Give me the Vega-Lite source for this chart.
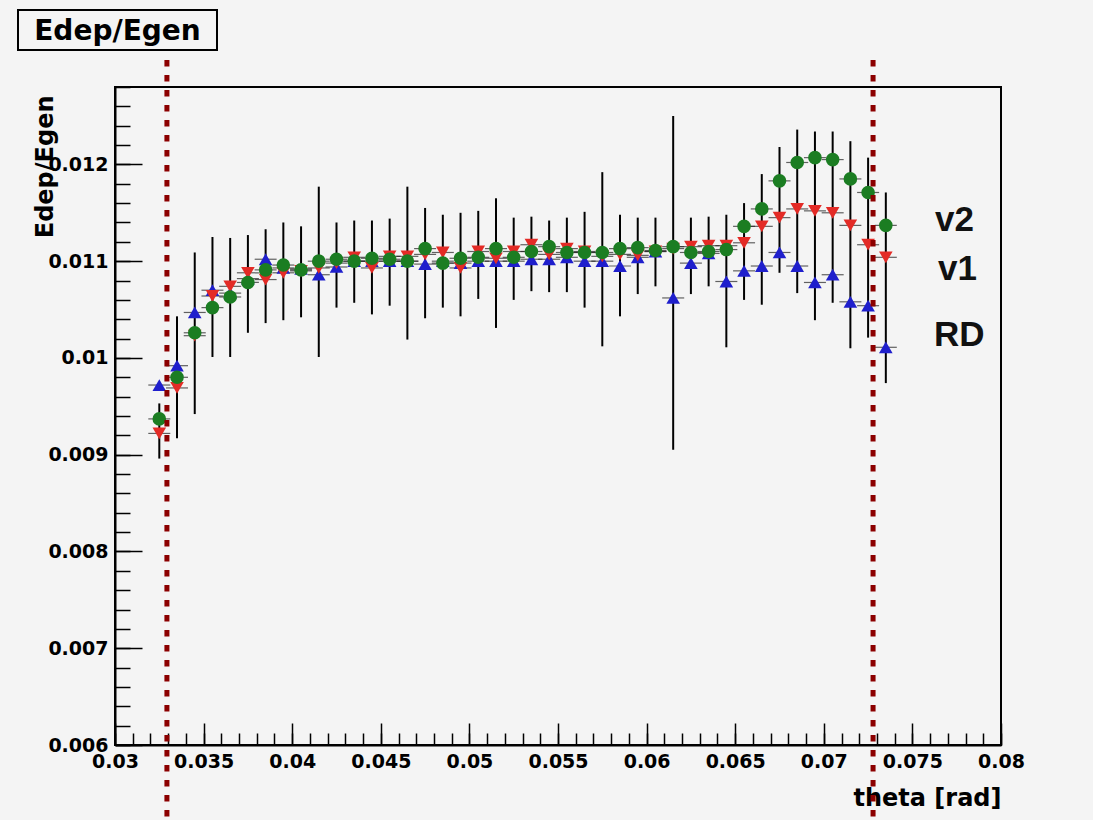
{
  "$schema": "https://vega.github.io/schema/vega-lite/v6.json",
  "width": 886,
  "height": 658,
  "autosize": "none",
  "padding": {"left": 115, "top": 87, "right": 92, "bottom": 75},
  "background": "#f4f4f4",
  "config": {
    "view": {"stroke": "black", "strokeWidth": 2, "fill": "#f4f4f4"},
    "axis": {
      "labelFont": "DejaVu Sans", "labelFontWeight": "bold", "labelFontSize": 19, "labelColor": "black",
      "tickColor": "black", "tickWidth": 1.5, "domainColor": "black", "domainWidth": 2, "grid": false,
      "titleColor": "black", "titleFont": "DejaVu Sans", "titleFontWeight": "bold"
    }
  },
  "datasets": {
    "bins": [
      {"theta":0.0325,"RD":0.00972,"v1":0.00922,"v2":0.00937,"lo":0.00896,"hi":0.00953},
      {"theta":0.0335,"RD":0.00992,"v1":0.00969,"v2":0.0098,"lo":0.00917,"hi":0.01043},
      {"theta":0.0345,"RD":0.01047,"v1":0.01023,"v2":0.01026,"lo":0.00942,"hi":0.01109},
      {"theta":0.0355,"RD":0.0107,"v1":0.01064,"v2":0.01052,"lo":0.01001,"hi":0.01125},
      {"theta":0.0365,"RD":0.01067,"v1":0.01074,"v2":0.01063,"lo":0.01001,"hi":0.01124},
      {"theta":0.0375,"RD":0.01082,"v1":0.01088,"v2":0.01078,"lo":0.01026,"hi":0.01127},
      {"theta":0.0385,"RD":0.01102,"v1":0.01081,"v2":0.01091,"lo":0.01036,"hi":0.01133},
      {"theta":0.0395,"RD":0.01093,"v1":0.01088,"v2":0.01096,"lo":0.01039,"hi":0.0114},
      {"theta":0.0405,"RD":0.01092,"v1":0.0109,"v2":0.01091,"lo":0.01042,"hi":0.01136},
      {"theta":0.0415,"RD":0.01086,"v1":0.01093,"v2":0.011,"lo":0.01001,"hi":0.01177},
      {"theta":0.0425,"RD":0.01094,"v1":0.01098,"v2":0.01102,"lo":0.01052,"hi":0.0114},
      {"theta":0.0435,"RD":0.011,"v1":0.01104,"v2":0.011,"lo":0.01057,"hi":0.01142},
      {"theta":0.0445,"RD":0.011,"v1":0.01093,"v2":0.01103,"lo":0.01045,"hi":0.01142},
      {"theta":0.0455,"RD":0.011,"v1":0.01105,"v2":0.01102,"lo":0.01054,"hi":0.01144},
      {"theta":0.0465,"RD":0.011,"v1":0.01105,"v2":0.011,"lo":0.01019,"hi":0.01177},
      {"theta":0.0475,"RD":0.01097,"v1":0.01107,"v2":0.01113,"lo":0.01041,"hi":0.01155},
      {"theta":0.0485,"RD":0.011,"v1":0.01109,"v2":0.01098,"lo":0.01052,"hi":0.01148},
      {"theta":0.0495,"RD":0.01098,"v1":0.01093,"v2":0.01103,"lo":0.01043,"hi":0.0115},
      {"theta":0.0505,"RD":0.011,"v1":0.0111,"v2":0.01104,"lo":0.01061,"hi":0.01152},
      {"theta":0.0515,"RD":0.011,"v1":0.01103,"v2":0.01113,"lo":0.01031,"hi":0.01165},
      {"theta":0.0525,"RD":0.011,"v1":0.0111,"v2":0.01104,"lo":0.0106,"hi":0.01145},
      {"theta":0.0535,"RD":0.01102,"v1":0.01117,"v2":0.0111,"lo":0.01069,"hi":0.01146},
      {"theta":0.0545,"RD":0.01102,"v1":0.01107,"v2":0.01115,"lo":0.01068,"hi":0.01142},
      {"theta":0.0555,"RD":0.01104,"v1":0.01113,"v2":0.01109,"lo":0.01068,"hi":0.01145},
      {"theta":0.0565,"RD":0.011,"v1":0.0111,"v2":0.01109,"lo":0.01052,"hi":0.01151},
      {"theta":0.0575,"RD":0.011,"v1":0.01105,"v2":0.01109,"lo":0.01012,"hi":0.01192},
      {"theta":0.0585,"RD":0.01095,"v1":0.01107,"v2":0.01113,"lo":0.01043,"hi":0.01148},
      {"theta":0.0595,"RD":0.01104,"v1":0.01106,"v2":0.01114,"lo":0.01066,"hi":0.01145},
      {"theta":0.0605,"RD":0.0111,"v1":0.0111,"v2":0.01111,"lo":0.01074,"hi":0.01145},
      {"theta":0.0615,"RD":0.01062,"v1":0.01113,"v2":0.01115,"lo":0.00905,"hi":0.0125},
      {"theta":0.0625,"RD":0.01098,"v1":0.01115,"v2":0.01109,"lo":0.01066,"hi":0.01145},
      {"theta":0.0635,"RD":0.01108,"v1":0.01116,"v2":0.0111,"lo":0.01074,"hi":0.01146},
      {"theta":0.0645,"RD":0.01079,"v1":0.01116,"v2":0.01112,"lo":0.01011,"hi":0.01148},
      {"theta":0.0655,"RD":0.0109,"v1":0.01119,"v2":0.01136,"lo":0.0106,"hi":0.0116},
      {"theta":0.0665,"RD":0.01095,"v1":0.01136,"v2":0.01154,"lo":0.01055,"hi":0.0119},
      {"theta":0.0675,"RD":0.01109,"v1":0.01145,"v2":0.01183,"lo":0.01088,"hi":0.01218},
      {"theta":0.0685,"RD":0.01095,"v1":0.01154,"v2":0.01202,"lo":0.01067,"hi":0.01236},
      {"theta":0.0695,"RD":0.01078,"v1":0.01152,"v2":0.01207,"lo":0.01039,"hi":0.01234},
      {"theta":0.0705,"RD":0.01086,"v1":0.0115,"v2":0.01205,"lo":0.01057,"hi":0.01234},
      {"theta":0.0715,"RD":0.01058,"v1":0.01137,"v2":0.01185,"lo":0.0101,"hi":0.01224},
      {"theta":0.0725,"RD":0.01054,"v1":0.01117,"v2":0.01171,"lo":0.01021,"hi":0.01207},
      {"theta":0.0735,"RD":0.01011,"v1":0.01104,"v2":0.01137,"lo":0.00974,"hi":0.01171}
    ],
    "cuts": [
      {"theta": 0.03293, "top": 0.01308, "bottom": 0.0052},
      {"theta": 0.07278, "top": 0.01308, "bottom": 0.0052}
    ],
    "labels": [
      {"theta": 0.076275, "y": 0.011312, "label": "v2"},
      {"theta": 0.076445, "y": 0.010805, "label": "v1"},
      {"theta": 0.076219, "y": 0.010123, "label": "RD"}
    ],
    "titlebox": [
      {"x1": 0.024526, "x2": 0.035756, "y1": 0.013596, "y2": 0.013182, "xc": 0.030141, "yb": 0.01329, "text": "Edep/Egen"}
    ]
  },
  "resolve": {"axis": {"x": "independent", "y": "independent"}},
  "layer": [
    {
      "data": {"name": "bins"},
      "mark": {"type": "rule", "color": "black", "strokeWidth": 2},
      "encoding": {
        "x": {"field": "theta", "type": "quantitative",
          "scale": {"domain": [0.03, 0.08], "nice": false, "zero": false},
          "axis": {"orient": "bottom", "values": [0.03,0.035,0.04,0.045,0.05,0.055,0.06,0.065,0.07,0.075,0.08],
            "format": "~g", "tickSize": -22, "labelPadding": 29, "labelFlush": false, "labelOverlap": false,
            "title": "theta [rad]", "titleFontSize": 24, "titleAnchor": "end", "titleAlign": "right",
            "titleBaseline": "middle", "titleX": 886, "titleY": 53}},
        "y": {"field": "lo", "type": "quantitative",
          "scale": {"domain": [0.006, 0.0128], "nice": false, "zero": false},
          "axis": {"orient": "left", "values": [0.006,0.007,0.008,0.009,0.01,0.011,0.012],
            "format": "~g", "tickSize": -27, "labelPadding": 34, "labelOverlap": false,
            "title": "Edep/Egen", "titleFontSize": 24, "titleAngle": -90, "titleAlign": "right",
            "titleBaseline": "middle", "titleX": -70, "titleY": 8}},
        "y2": {"field": "hi"}
      }
    },
    {
      "data": {"name": "bins"},
      "transform": [{"fold": ["RD", "v1", "v2"], "as": ["series", "val"]}],
      "mark": {"type": "tick", "orient": "horizontal", "size": 22, "thickness": 1.2, "color": "#222222"},
      "encoding": {
        "x": {"field": "theta", "type": "quantitative",
          "scale": {"domain": [0.03, 0.08], "nice": false, "zero": false},
          "axis": {"orient": "bottom", "values": [0.03,0.031,0.032,0.033,0.034,0.035,0.036,0.037,0.038,0.039,0.04,0.041,0.042,0.043,0.044,0.045,0.046,0.047,0.048,0.049,0.05,0.051,0.052,0.053,0.054,0.055,0.056,0.057,0.058,0.059,0.06,0.061,0.062,0.063,0.064,0.065,0.066,0.067,0.068,0.069,0.07,0.071,0.072,0.073,0.074,0.075,0.076,0.077,0.078,0.079,0.08],
            "tickSize": -12, "labels": false, "domain": false, "title": null}},
        "y": {"field": "val", "type": "quantitative",
          "scale": {"domain": [0.006, 0.0128], "nice": false, "zero": false},
          "axis": {"orient": "left", "values": [0.006,0.0062,0.0064,0.0066,0.0068,0.007,0.0072,0.0074,0.0076,0.0078,0.008,0.0082,0.0084,0.0086,0.0088,0.009,0.0092,0.0094,0.0096,0.0098,0.01,0.0102,0.0104,0.0106,0.0108,0.011,0.0112,0.0114,0.0116,0.0118,0.012,0.0122,0.0124,0.0126,0.0128],
            "tickSize": -15, "labels": false, "domain": false, "title": null}}
      }
    },
    {
      "data": {"name": "bins"},
      "transform": [{"fold": ["RD", "v1", "v2"], "as": ["series", "val"]}],
      "mark": {"type": "point", "filled": true, "opacity": 1},
      "encoding": {
        "x": {"field": "theta", "type": "quantitative", "scale": {"domain": [0.03, 0.08], "nice": false, "zero": false}, "axis": null},
        "y": {"field": "val", "type": "quantitative", "scale": {"domain": [0.006, 0.0128], "nice": false, "zero": false}, "axis": null},
        "shape": {"field": "series", "type": "nominal", "legend": null,
          "scale": {"domain": ["RD", "v1", "v2"], "range": ["triangle-up", "triangle-down", "circle"]}},
        "size": {"field": "series", "type": "nominal", "legend": null,
          "scale": {"domain": ["RD", "v1", "v2"], "range": [185, 185, 165]}},
        "color": {"field": "series", "type": "nominal", "legend": null,
          "scale": {"domain": ["RD", "v1", "v2"], "range": ["#1f1fcc", "#e32b26", "#1b7d22"]}}
      }
    },
    {
      "data": {"name": "cuts"},
      "mark": {"type": "rule", "color": "#8b0000", "strokeWidth": 5, "strokeDash": [6.5, 8.5], "clip": false},
      "encoding": {
        "x": {"field": "theta", "type": "quantitative", "scale": {"domain": [0.03, 0.08], "nice": false, "zero": false}, "axis": null},
        "y": {"field": "top", "type": "quantitative", "scale": {"domain": [0.006, 0.0128], "nice": false, "zero": false}, "axis": null},
        "y2": {"field": "bottom"}
      }
    },
    {
      "data": {"name": "labels"},
      "mark": {"type": "text", "font": "Liberation Sans", "fontWeight": "bold", "fontSize": 35, "align": "left", "baseline": "alphabetic", "color": "#111111", "clip": false},
      "encoding": {
        "x": {"field": "theta", "type": "quantitative", "scale": {"domain": [0.03, 0.08], "nice": false, "zero": false}, "axis": null},
        "y": {"field": "y", "type": "quantitative", "scale": {"domain": [0.006, 0.0128], "nice": false, "zero": false}, "axis": null},
        "text": {"field": "label"}
      }
    },
    {
      "data": {"name": "titlebox"},
      "mark": {"type": "rect", "fill": "#f4f4f4", "stroke": "black", "strokeWidth": 2, "clip": false},
      "encoding": {
        "x": {"field": "x1", "type": "quantitative", "scale": {"domain": [0.03, 0.08], "nice": false, "zero": false}, "axis": null},
        "x2": {"field": "x2"},
        "y": {"field": "y1", "type": "quantitative", "scale": {"domain": [0.006, 0.0128], "nice": false, "zero": false}, "axis": null},
        "y2": {"field": "y2"}
      }
    },
    {
      "data": {"name": "titlebox"},
      "mark": {"type": "text", "font": "DejaVu Sans", "fontWeight": "bold", "fontSize": 28, "align": "center", "baseline": "alphabetic", "color": "black", "clip": false},
      "encoding": {
        "x": {"field": "xc", "type": "quantitative", "scale": {"domain": [0.03, 0.08], "nice": false, "zero": false}, "axis": null},
        "y": {"field": "yb", "type": "quantitative", "scale": {"domain": [0.006, 0.0128], "nice": false, "zero": false}, "axis": null},
        "text": {"field": "text"}
      }
    }
  ]
}
